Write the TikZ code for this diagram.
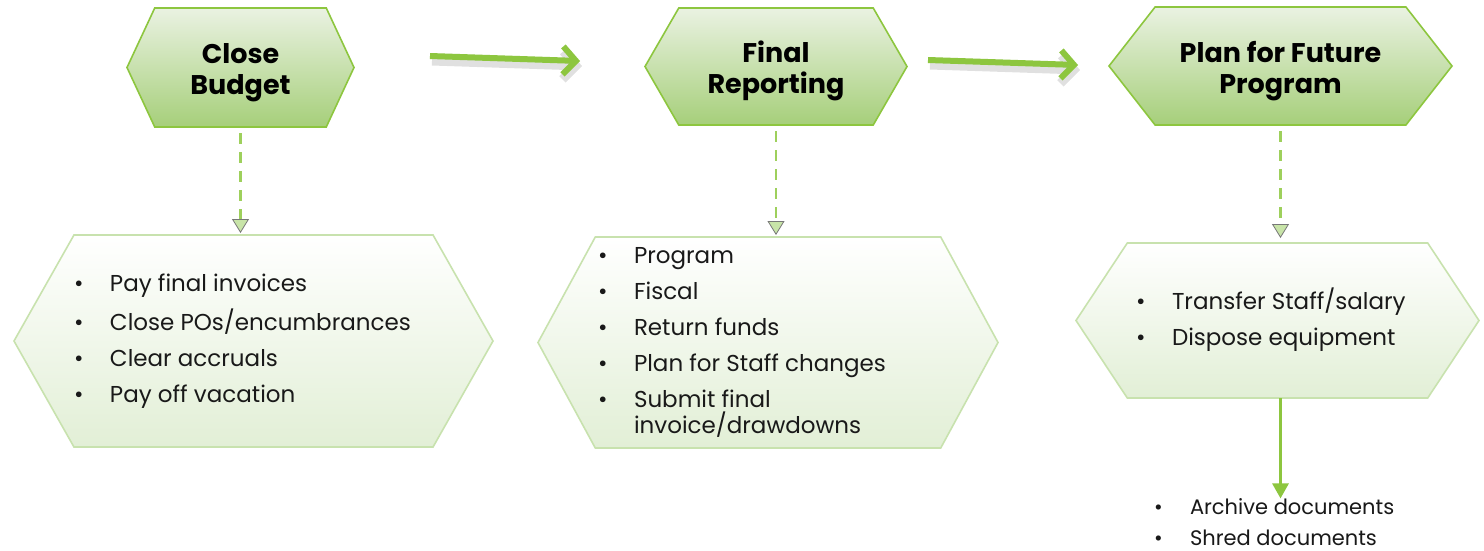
\documentclass[tikz,border=0pt]{standalone}
\usepackage{fontspec}
\setmainfont{Poppins}
\usetikzlibrary{arrows.meta,positioning,shapes.symbols}

\definecolor{stageline}{RGB}{141,198,63}
\definecolor{stagetop}{RGB}{234,242,226}
\definecolor{stagebottom}{RGB}{166,207,122}
\definecolor{taskline}{RGB}{200,226,174}
\definecolor{taskbottom}{RGB}{226,239,214}
\definecolor{flowgreen}{RGB}{141,198,63}
\definecolor{dashgreen}{RGB}{158,208,92}
\definecolor{tipgreen}{RGB}{200,228,168}
\definecolor{tipline}{RGB}{120,120,120}

% one bullet line of a list
\newcommand{\bul}[1]{\makebox[36pt][l]{\textbullet}#1}
% pushes the stage titles a little down
\newcommand{\titlestrut}{\rule{0pt}{31pt}}

\begin{document}
\begin{tikzpicture}[x=1pt,y=-1pt,
    every node/.style={inner sep=0pt,outer sep=0pt},
    stage/.style={signal,signal to=west and east,draw=stageline,line width=1.6pt,
      top color=stagetop,bottom color=stagebottom,align=center,
      font=\fontsize{27}{31}\selectfont\bfseries},
    task/.style={signal,signal to=west and east,draw=taskline,line width=1.6pt,
      top color=white,bottom color=taskbottom},
    items/.style={align=left,anchor=west,text=black!90,font=\fontsize{23}{26}\selectfont},
    flow/.style={draw=flowgreen,line width=6pt,-{Straight Barb[length=13pt,width=28pt]},
      preaction={draw=black,opacity=.12,line width=9pt,transform canvas={shift={(2pt,-5pt)}}}},
    hint/.style={draw=dashgreen,line width=2.5pt,dash pattern=on 11pt off 8pt,
      -{Triangle[length=14pt,width=17pt,fill=tipgreen,color=tipline,line width=.8pt]}},
    drop/.style={draw=flowgreen,line width=3pt,-{Triangle[length=15pt,width=16pt]}}]

	\fill[white] (0,0) rectangle (1484,550);
	\useasboundingbox (0,0) rectangle (1484,550);

	% the three stages
	\node[stage,minimum width=227,minimum height=119,signal pointer angle=130] (budget) at (240.5,67.5) {\titlestrut Close\\Budget};
	\node[stage,minimum width=262,minimum height=117,signal pointer angle=120] (report) at (776,66.5) {\titlestrut Final\\Reporting};
	\node[stage,minimum width=343,minimum height=118,signal pointer angle=104] (future) at (1280.5,66) {\titlestrut Plan for Future\\Program};

	% what belongs to each stage
	\node[task,minimum width=479,minimum height=212,signal pointer angle=121] (budgetbox) at (253.5,341) {};
	\node[task,minimum width=460,minimum height=211,signal pointer angle=123] (reportbox) at (768,342.5) {};
	\node[task,minimum width=403,minimum height=155,signal pointer angle=113] (futurebox) at (1277.5,320.5) {};

	\node[items] (budgetitems) at (74,341) {\bul{Pay final invoices}\\[10pt]\bul{Close POs/encumbrances}\\[10pt]\bul{Clear accruals}\\[10pt]\bul{Pay off vacation}};
	\node[items] (reportitems) at (598,342) {\bul{Program}\\[10pt]\bul{Fiscal}\\[10pt]\bul{Return funds}\\[10pt]\bul{Plan for Staff changes}\\[10pt]\bul{Submit final}\\\hspace*{36pt}invoice/drawdowns};
	\node[items] (futureitems) at (1136,320) {\bul{Transfer Staff/salary}\\[10pt]\bul{Dispose equipment}};

	\node[items,font=\fontsize{21}{31}\selectfont] (records) at (1154,522) {\bul{Archive documents}\\\bul{Shred documents}};

	% flow between the stages
	\coordinate (go1) at (430,56);
	\coordinate (to1) at (580,61);
	\coordinate (go2) at (928,60);
	\coordinate (to2) at (1078,65);
	\draw[flow] (go1) -- (to1);
	\draw[flow] (go2) -- (to2);

	\draw[hint,shorten <=6pt,shorten >=2pt] (budget.south) -- (budget.south |- budgetbox.north);
	\draw[hint,shorten <=6pt,shorten >=2pt] (report.south) -- (report.south |- reportbox.north);
	\draw[hint,shorten <=6pt,shorten >=5pt] (future.south) -- (future.south |- futurebox.north);

	\draw[drop] (futurebox.south -| future.south) -- (future.south |- records.north);
\end{tikzpicture}
\end{document}
